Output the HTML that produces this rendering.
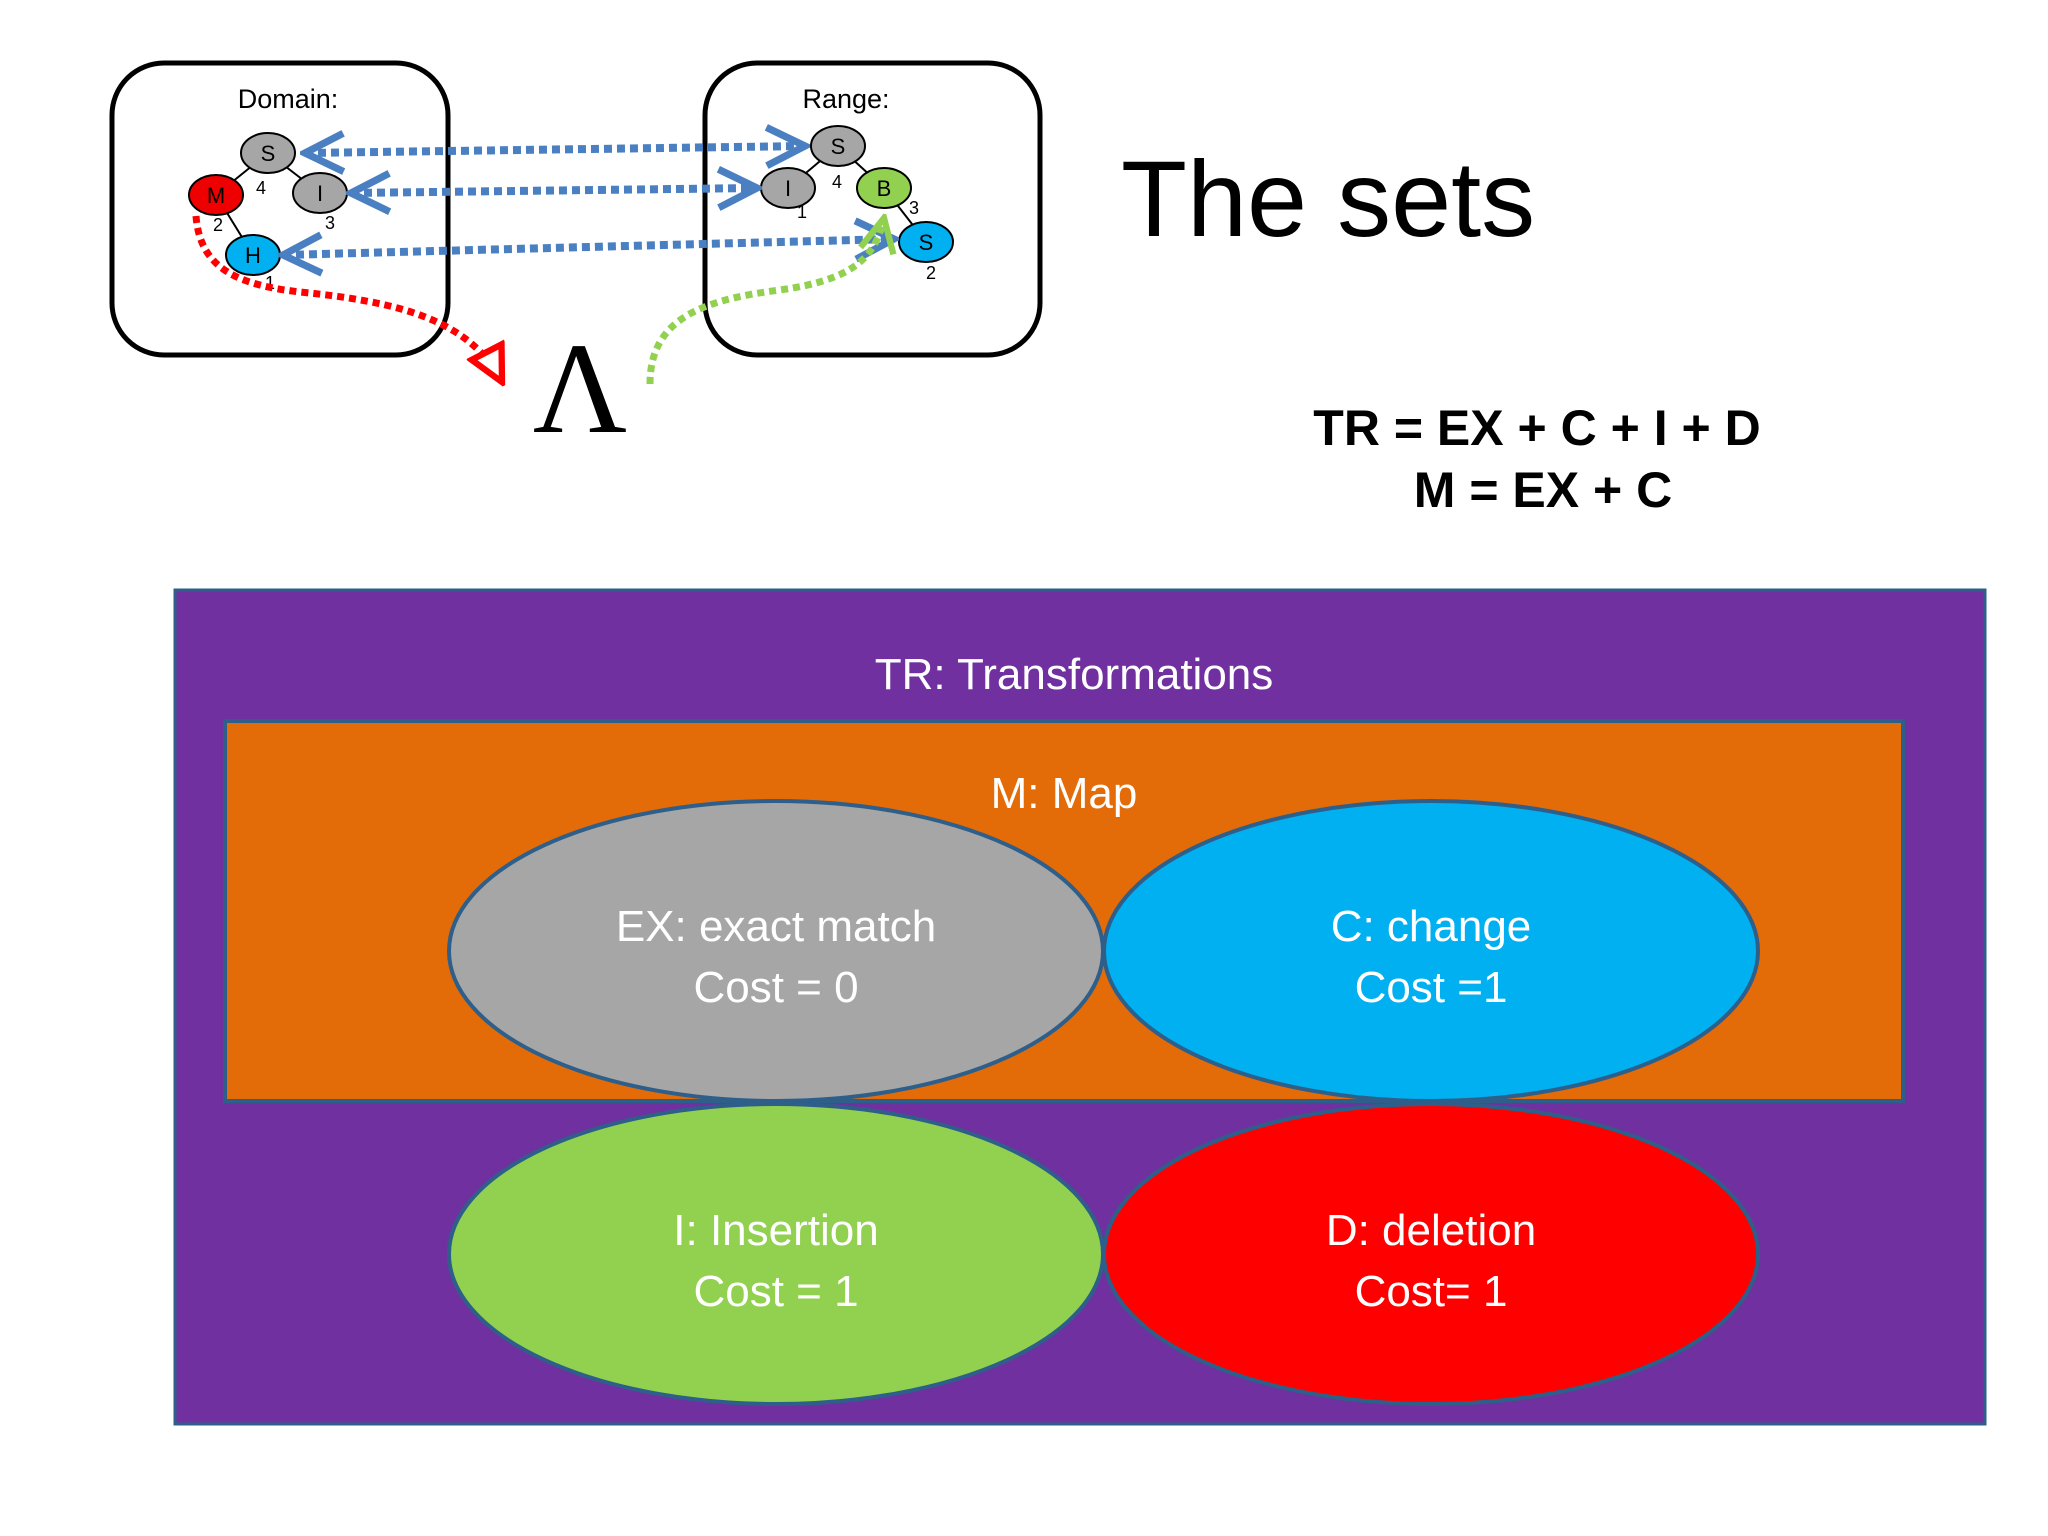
<!DOCTYPE html>
<html><head><meta charset="utf-8"><style>
html,body{margin:0;padding:0;background:#fff;}
svg{display:block;}
</style></head><body>
<svg width="2048" height="1536" viewBox="0 0 2048 1536" xmlns="http://www.w3.org/2000/svg">
<defs>
<marker id="chev" viewBox="0 0 20 20" refX="18" refY="10" markerWidth="6" markerHeight="6" orient="auto-start-reverse" markerUnits="strokeWidth">
<path d="M2,2 L18,10 L2,18" fill="none" stroke="#4a7fc1" stroke-width="3"/></marker>
<marker id="chevg" viewBox="0 0 20 20" refX="18" refY="10" markerWidth="6" markerHeight="6" orient="auto" markerUnits="strokeWidth">
<path d="M2,2 L18,10 L2,18" fill="none" stroke="#92d050" stroke-width="3"/></marker>
<marker id="trir" viewBox="0 0 20 20" refX="18" refY="10" markerWidth="6" markerHeight="6" orient="auto" markerUnits="strokeWidth">
<path d="M2,2 L18,10 L2,18 Z" fill="#fff" stroke="#f00" stroke-width="3"/></marker>
</defs>
<rect x="112" y="63" width="336" height="292" rx="52" fill="#fff" stroke="#000" stroke-width="5"/>
<rect x="705" y="63" width="335" height="292" rx="52" fill="#fff" stroke="#000" stroke-width="5"/>
<g font-family="Liberation Sans, sans-serif" font-size="27" text-anchor="middle">
<text x="288" y="108">Domain:</text>
<text x="846" y="108">Range:</text>
</g>
<g stroke="#000" stroke-width="2">
<line x1="268" y1="153" x2="216" y2="195"/><line x1="268" y1="153" x2="320" y2="193"/><line x1="216" y1="195" x2="253" y2="255"/>
<line x1="838" y1="146" x2="788" y2="188"/><line x1="838" y1="146" x2="884" y2="188"/><line x1="884" y1="188" x2="926" y2="242"/>
</g>
<g stroke="#000" stroke-width="2">
<ellipse cx="268" cy="153" rx="27" ry="20" fill="#a6a6a6"/>
<ellipse cx="216" cy="195" rx="27" ry="20" fill="#e00"/>
<ellipse cx="320" cy="193" rx="27" ry="20" fill="#a6a6a6"/>
<ellipse cx="253" cy="255" rx="27" ry="20" fill="#00b0f0"/>
<ellipse cx="838" cy="146" rx="27" ry="20" fill="#a6a6a6"/>
<ellipse cx="788" cy="188" rx="27" ry="20" fill="#a6a6a6"/>
<ellipse cx="884" cy="188" rx="27" ry="20" fill="#92d050"/>
<ellipse cx="926" cy="242" rx="27" ry="20" fill="#00b0f0"/>
</g>
<g font-family="Liberation Sans, sans-serif" font-size="22" text-anchor="middle">
<text x="268" y="161">S</text><text x="216" y="203">M</text><text x="320" y="201">I</text><text x="253" y="263">H</text>
<text x="838" y="154">S</text><text x="788" y="196">I</text><text x="884" y="196">B</text><text x="926" y="250">S</text>
</g>
<g font-family="Liberation Sans, sans-serif" font-size="18" text-anchor="middle">
<text x="261" y="194">4</text><text x="218" y="231">2</text><text x="330" y="229">3</text><text x="270" y="289">1</text>
<text x="837" y="188">4</text><text x="802" y="218">1</text><text x="914" y="214">3</text><text x="931" y="279">2</text>
</g>
<g stroke="#4a7fc1" stroke-width="8" stroke-dasharray="8 5" fill="none" marker-start="url(#chev)" marker-end="url(#chev)">
<line x1="305" y1="153" x2="805" y2="146"/>
<line x1="351" y1="193" x2="757" y2="188"/>
<line x1="283" y1="255" x2="894" y2="239"/>
</g>
<path d="M196,216 C200,270 240,285 300,292 C400,302 470,320 502,382" fill="none" stroke="#f00" stroke-width="7" stroke-dasharray="7 5" marker-end="url(#trir)"/>
<path d="M650,384 C650,320 700,300 780,290 C850,280 875,260 884,218" fill="none" stroke="#92d050" stroke-width="7" stroke-dasharray="7 5" marker-end="url(#chevg)"/>
<text x="580" y="432" font-family="Liberation Serif, serif" font-size="130" text-anchor="middle">Λ</text>
<text x="1121" y="236" font-family="Liberation Sans, sans-serif" font-size="108">The sets</text>
<g font-family="Liberation Sans, sans-serif" font-size="50" font-weight="bold" text-anchor="middle">
<text x="1537" y="445">TR = EX + C + I + D</text>
<text x="1543" y="507">M = EX + C</text>
</g>
<rect x="175" y="590" width="1810" height="834" fill="#7030a0" stroke="#2e5f8a" stroke-width="3"/>
<rect x="225" y="721" width="1678" height="380" fill="#e36c09" stroke="#2e5f8a" stroke-width="4"/>
<g stroke="#2e5f8a" stroke-width="4">
<ellipse cx="776" cy="951" rx="327" ry="150" fill="#a6a6a6"/>
<ellipse cx="1431" cy="951" rx="327" ry="150" fill="#00b0f0"/>
<ellipse cx="776" cy="1254" rx="327" ry="150" fill="#92d050"/>
<ellipse cx="1431" cy="1254" rx="327" ry="150" fill="#ff0000"/>
</g>
<g font-family="Liberation Sans, sans-serif" font-size="44" fill="#fff" text-anchor="middle">
<text x="1074" y="689">TR: Transformations</text>
<text x="1064" y="808">M: Map</text>
<text x="776" y="941">EX: exact match</text><text x="776" y="1002">Cost = 0</text>
<text x="1431" y="941">C: change</text><text x="1431" y="1002">Cost =1</text>
<text x="776" y="1245">I: Insertion</text><text x="776" y="1306">Cost = 1</text>
<text x="1431" y="1245">D: deletion</text><text x="1431" y="1306">Cost= 1</text>
</g>
</svg>
</body></html>
